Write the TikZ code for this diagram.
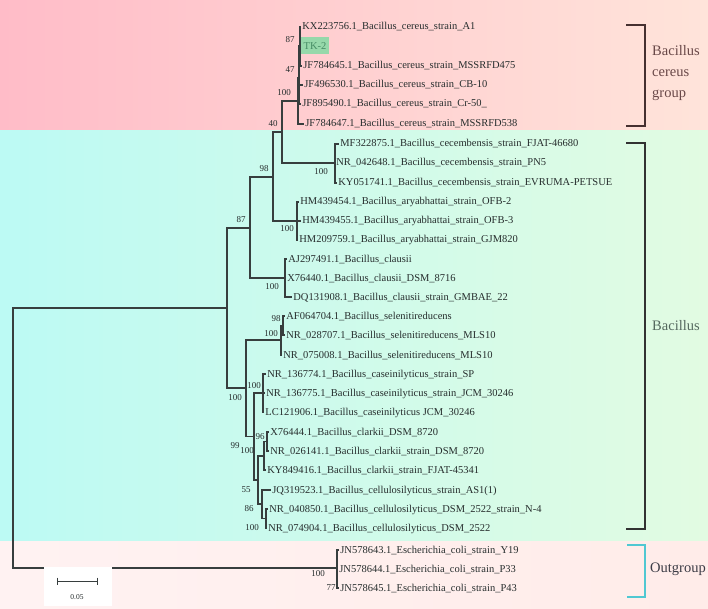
\documentclass[tikz,border=0pt]{standalone}
\usepackage{fontspec}
\setmainfont{Liberation Serif}
\definecolor{pinkL}{RGB}{255,188,200}
\definecolor{pinkR}{RGB}{255,228,218}
\definecolor{cyanL}{RGB}{188,250,244}
\definecolor{cyanR}{RGB}{226,251,226}
\definecolor{lowL}{RGB}{255,242,242}
\definecolor{lowR}{RGB}{255,236,233}
\definecolor{treecol}{RGB}{55,62,62}
\definecolor{labcol}{RGB}{38,45,45}
\definecolor{tkfill}{RGB}{150,216,170}
\definecolor{tktext}{RGB}{70,140,100}
\definecolor{brkA}{RGB}{70,48,48}
\definecolor{brkB}{RGB}{50,50,50}
\definecolor{brkC}{RGB}{80,200,210}
\definecolor{grpA}{RGB}{105,72,72}
\definecolor{grpB}{RGB}{85,105,95}
\definecolor{grpC}{RGB}{60,60,70}
\newcommand{\leaf}[4]{\coordinate (#1) at (#2,#3); \node[leaflab] (#1l) at ([xshift=1.2pt]#1) {#4};}
\begin{document}
\begin{tikzpicture}[x=1pt,y=-1pt,
  br/.style={draw=treecol,line width=1.1pt},
  leaflab/.style={anchor=west,inner sep=0pt,text=labcol,font=\fontsize{10.5}{12}\selectfont,text height=7.5pt,text depth=1.5pt},
  bs/.style={inner sep=0pt,text=labcol,font=\fontsize{9}{10}\selectfont},
  grp/.style={anchor=west,inner sep=0pt,font=\fontsize{14.5}{16}\selectfont}]
\useasboundingbox (0,0) rectangle (708,609);
% background bands
\shade[left color=pinkL,right color=pinkR] (0,0) rectangle (708,131);
\shade[left color=cyanL,right color=cyanR] (0,131) rectangle (708,541);
\shade[left color=lowL,right color=lowR] (0,541) rectangle (708,609);

% internal nodes
\coordinate (root) at (13,438);
\coordinate (n227) at (227,308);
\coordinate (n87) at (250,228);
\coordinate (n98) at (273,177);
\coordinate (n40) at (282,132);
\coordinate (c100) at (298,101);
\coordinate (c47) at (299,78);
\coordinate (c87) at (300,46);
\coordinate (ce) at (335,163);
\coordinate (ar) at (297,221);
\coordinate (cl) at (285,278);
\coordinate (n246) at (246,388);
\coordinate (s100) at (281,340);
\coordinate (s98) at (283,325.5);
\coordinate (n254) at (254,436.5);
\coordinate (ca) at (263,393);
\coordinate (e55) at (258,480);
\coordinate (k100) at (264,456);
\coordinate (k96) at (267,441.5);
\coordinate (e86) at (262,504);
\coordinate (e100) at (266,518.5);
\coordinate (og) at (337,568);

% leaves
\leaf{KX}{301}{27}{KX223756.1\_Bacillus\_cereus\_strain\_A1}
\coordinate (TK) at (301,46);
\node[anchor=west,fill=tkfill,text=tktext,inner xsep=2.5pt,inner ysep=0pt,minimum height=17pt,font=\fontsize{10.5}{12}\selectfont] (TKl) at (TK) {TK-2};
\leaf{JFa}{302}{66}{JF784645.1\_Bacillus\_cereus\_strain\_MSSRFD475}
\leaf{JFb}{303}{85}{JF496530.1\_Bacillus\_cereus\_strain\_CB-10}
\leaf{JFc}{301}{104}{JF895490.1\_Bacillus\_cereus\_strain\_Cr-50\_}
\leaf{JFd}{304}{124}{JF784647.1\_Bacillus\_cereus\_strain\_MSSRFD538}
\leaf{MF}{339}{144}{MF322875.1\_Bacillus\_cecembensis\_strain\_FJAT-46680}
\leaf{NRa}{335}{163}{NR\_042648.1\_Bacillus\_cecembensis\_strain\_PN5}
\leaf{KYa}{337}{183}{KY051741.1\_Bacillus\_cecembensis\_strain\_EVRUMA-PETSUE}
\leaf{HMa}{299}{202}{HM439454.1\_Bacillus\_aryabhattai\_strain\_OFB-2}
\leaf{HMb}{301}{221}{HM439455.1\_Bacillus\_aryabhattai\_strain\_OFB-3}
\leaf{HMc}{298}{240}{HM209759.1\_Bacillus\_aryabhattai\_strain\_GJM820}
\leaf{AJ}{287}{259}{AJ297491.1\_Bacillus\_clausii}
\leaf{Xa}{286}{278}{X76440.1\_Bacillus\_clausii\_DSM\_8716}
\leaf{DQ}{292}{297}{DQ131908.1\_Bacillus\_clausii\_strain\_GMBAE\_22}
\leaf{AF}{285}{316}{AF064704.1\_Bacillus\_selenitireducens}
\leaf{NRb}{285}{335}{NR\_028707.1\_Bacillus\_selenitireducens\_MLS10}
\leaf{NRc}{282}{355}{NR\_075008.1\_Bacillus\_selenitireducens\_MLS10}
\leaf{NRd}{266}{374}{NR\_136774.1\_Bacillus\_caseinilyticus\_strain\_SP}
\leaf{NRe}{265}{393}{NR\_136775.1\_Bacillus\_caseinilyticus\_strain\_JCM\_30246}
\leaf{LC}{264}{412}{LC121906.1\_Bacillus\_caseinilyticus JCM\_30246}
\leaf{Xb}{269}{432}{X76444.1\_Bacillus\_clarkii\_DSM\_8720}
\leaf{NRf}{269}{451}{NR\_026141.1\_Bacillus\_clarkii\_strain\_DSM\_8720}
\leaf{KYb}{266}{470}{KY849416.1\_Bacillus\_clarkii\_strain\_FJAT-45341}
\leaf{JQ}{271}{490}{JQ319523.1\_Bacillus\_cellulosilyticus\_strain\_AS1(1)}
\leaf{NRg}{268}{509}{NR\_040850.1\_Bacillus\_cellulosilyticus\_DSM\_2522\_strain\_N-4}
\leaf{NRh}{267}{528}{NR\_074904.1\_Bacillus\_cellulosilyticus\_DSM\_2522}
\leaf{JNa}{339}{550}{JN578643.1\_Escherichia\_coli\_strain\_Y19}
\leaf{JNb}{338}{569}{JN578644.1\_Escherichia\_coli\_strain\_P33}
\leaf{JNc}{339}{588}{JN578645.1\_Escherichia\_coli\_strain\_P43}

% branches
\draw[br] (root) |- (n227);
\draw[br] (root) |- (og);
\draw[br] (n227) |- (n87);
\draw[br] (n227) |- (n246);
\draw[br] (n87) |- (n98);
\draw[br] (n87) |- (cl);
\draw[br] (n98) |- (n40);
\draw[br] (n98) |- (ar);
\draw[br] (n40) |- (c100);
\draw[br] (n40) |- (ce);
\draw[br] (c100) |- (c47);
\draw[br] (c100) |- (JFd);
\draw[br] (c47) |- (c87);
\draw[br] (c47) |- (JFb);
\draw[br] (c47) |- (JFc);
\draw[br] (c87) |- (KX);
\draw[br] (c87) |- (TK);
\draw[br] (c87) |- (JFa);
\draw[br] (ce) |- (MF);
\draw[br] (ce) |- (NRa);
\draw[br] (ce) |- (KYa);
\draw[br] (ar) |- (HMa);
\draw[br] (ar) |- (HMb);
\draw[br] (ar) |- (HMc);
\draw[br] (cl) |- (AJ);
\draw[br] (cl) |- (Xa);
\draw[br] (cl) |- (DQ);
\draw[br] (n246) |- (s100);
\draw[br] (n246) |- (n254);
\draw[br] (s100) |- (s98);
\draw[br] (s100) |- (NRc);
\draw[br] (s98) |- (AF);
\draw[br] (s98) |- (NRb);
\draw[br] (n254) |- (ca);
\draw[br] (n254) |- (e55);
\draw[br] (ca) |- (NRd);
\draw[br] (ca) |- (NRe);
\draw[br] (ca) |- (LC);
\draw[br] (e55) |- (k100);
\draw[br] (e55) |- (e86);
\draw[br] (k100) |- (k96);
\draw[br] (k100) |- (KYb);
\draw[br] (k96) |- (Xb);
\draw[br] (k96) |- (NRf);
\draw[br] (e86) |- (JQ);
\draw[br] (e86) |- (e100);
\draw[br] (e100) |- (NRg);
\draw[br] (e100) |- (NRh);
\draw[br] (og) |- (JNa);
\draw[br] (og) |- (JNb);
\draw[br] (og) |- (JNc);

% bootstrap values
\node[bs] (b1) at (290,40) {87};
\node[bs] (b2) at (290,70) {47};
\node[bs] (b3) at (284,93) {100};
\node[bs] (b4) at (273,124) {40};
\node[bs] (b5) at (264,169) {98};
\node[bs] (b6) at (321,172) {100};
\node[bs] (b7) at (241,220) {87};
\node[bs] (b8) at (287,229) {100};
\node[bs] (b9) at (272,287) {100};
\node[bs] (b10) at (276,319) {98};
\node[bs] (b11) at (271,334) {100};
\node[bs] (b12) at (254,386) {100};
\node[bs] (b13) at (235,398) {100};
\node[bs] (b14) at (260,437) {96};
\node[bs] (b15) at (235,446) {99};
\node[bs] (b16) at (247,451) {100};
\node[bs] (b17) at (246,490) {55};
\node[bs] (b18) at (249,509) {86};
\node[bs] (b19) at (252,528) {100};
\node[bs] (b20) at (318,574) {100};
\node[bs] (b21) at (331,588) {77};

% group brackets
\draw[draw=brkA,line width=1.5pt] (626,25) -- (645,25) -- (645,126) -- (626,126);
\draw[draw=brkB,line width=1.5pt] (626,143) -- (645,143) -- (645,529) -- (626,529);
\draw[draw=brkC,line width=1.5pt] (627,545) -- (645,545) -- (645,597) -- (627,597);
\node[grp,text=grpA] (g1) at (652,51) {Bacillus};
\node[grp,text=grpA] (g2) at (652,73) {cereus};
\node[grp,text=grpA] (g3) at (652,95) {group};
\node[grp,text=grpB] (g4) at (652,326) {Bacillus};
\node[grp,text=grpC] (g5) at (650,569) {Outgroup};

% scale bar
\fill[white] (44,567) rectangle (112,606);
\coordinate (sbl) at (57,581);
\coordinate (sbr) at (97,581);
\draw[draw=treecol,line width=1pt] (sbl) -- (sbr);
\draw[draw=treecol,line width=1pt] ([yshift=3.5pt]sbl) -- ([yshift=-3.5pt]sbl);
\draw[draw=treecol,line width=1pt] ([yshift=3.5pt]sbr) -- ([yshift=-3.5pt]sbr);
\node[inner sep=0pt,text=labcol,font=\fontsize{7.5}{9}\selectfont] (sbt) at (77,597) {0.05};
\end{tikzpicture}
\end{document}
